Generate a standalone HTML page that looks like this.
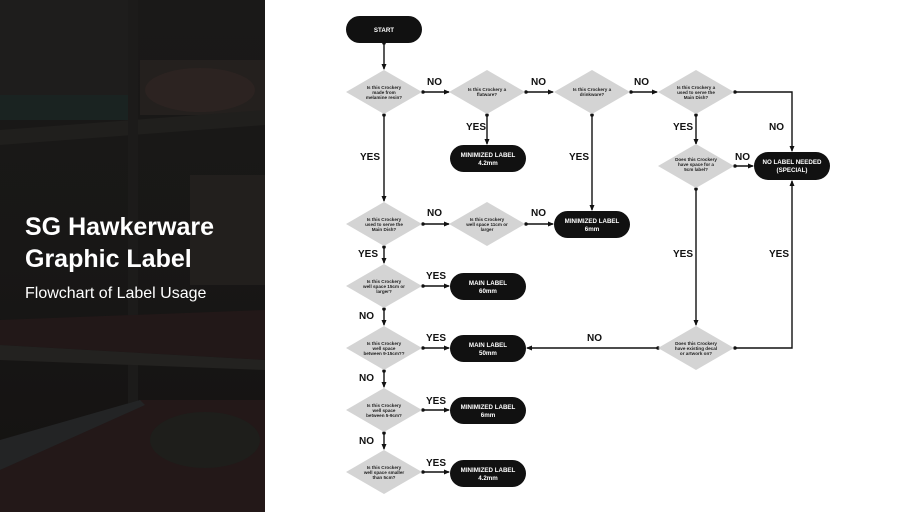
<!DOCTYPE html>
<html><head><meta charset="utf-8"><style>
html,body{margin:0;padding:0;background:#fff}
svg{display:block}
.q{font-family:"Liberation Sans",sans-serif;font-size:4.6px;fill:#222;text-anchor:middle;font-weight:bold}
.t{font-family:"Liberation Sans",sans-serif;font-size:6.2px;fill:#fff;text-anchor:middle;font-weight:bold}
.l{font-family:"Liberation Sans",sans-serif;font-size:10px;fill:#111;font-weight:bold}
.c{stroke:#111;stroke-width:1.4;fill:none}
</style></head><body>
<svg width="910" height="512" viewBox="0 0 910 512" xmlns="http://www.w3.org/2000/svg">
<defs>
<marker id="a" markerWidth="6" markerHeight="6" refX="5" refY="3" orient="auto" markerUnits="userSpaceOnUse"><path d="M0,0.5 L6,3 L0,5.5z" fill="#111"/></marker>
<marker id="d" markerWidth="4" markerHeight="4" refX="2" refY="2" markerUnits="userSpaceOnUse"><circle cx="2" cy="2" r="1.8" fill="#111"/></marker>
<linearGradient id="bg" x1="0" y1="0" x2="0" y2="1"><stop offset="0" stop-color="#1a1918"/><stop offset="0.5" stop-color="#181716"/><stop offset="1" stop-color="#141211"/></linearGradient>
</defs>
<rect x="0" y="0" width="265" height="512" fill="url(#bg)"/>
<rect x="0" y="0" width="128" height="110" fill="#1e1d1c"/>
<rect x="0" y="95" width="128" height="25" fill="#1a2321"/>
<rect x="140" y="60" width="125" height="55" fill="#24201e"/>
<ellipse cx="200" cy="90" rx="55" ry="22" fill="#2c2321"/>
<polygon points="0,130 265,110 265,125 0,145" fill="#201f1d"/>
<rect x="128" y="0" width="10" height="512" fill="#1c1b1a"/>
<rect x="190" y="175" width="75" height="110" fill="#221f1d"/>
<polygon points="0,320 265,310 265,360 0,345" fill="#221818"/>
<polygon points="0,345 265,360 265,370 0,360" fill="#232220"/>
<polygon points="0,470 140,400 265,400 265,512 0,512" fill="#231818"/>
<polygon points="0,440 140,400 145,405 0,470" fill="#232425"/>
<ellipse cx="205" cy="440" rx="55" ry="28" fill="#1e1e1b"/>
<text x="25" y="235" font-family="Liberation Sans,sans-serif" font-size="25" font-weight="bold" fill="#fff">SG Hawkerware</text>
<text x="25" y="267" font-family="Liberation Sans,sans-serif" font-size="25" font-weight="bold" fill="#fff">Graphic Label</text>
<text x="25" y="298" font-family="Liberation Sans,sans-serif" font-size="16" fill="#fff">Flowchart of Label Usage</text>

<g class="c" marker-end="url(#a)" marker-start="url(#d)">
<path d="M384,43 V69"/>
<path d="M423,92 H449"/>
<path d="M526,92 H553"/>
<path d="M631,92 H657"/>
<path d="M735,92 H792 V151"/>
<path d="M696,115 V144"/>
<path d="M735,166 H753"/>
<path d="M487,115 V144"/>
<path d="M592,115 V210"/>
<path d="M384,115 V201"/>
<path d="M423,224 H449"/>
<path d="M526,224 H553"/>
<path d="M384,247 V263"/>
<path d="M423,286 H449"/>
<path d="M384,309 V325"/>
<path d="M423,348 H449"/>
<path d="M384,371 V387"/>
<path d="M423,410 H449"/>
<path d="M384,433 V449"/>
<path d="M423,472 H449"/>
<path d="M696,189 V325"/>
<path d="M658,348 H527"/>
<path d="M735,348 H792 V181"/>
</g>

<g fill="#d4d4d4">
<polygon points="384,70 422,92 384,114 346,92"/>
<polygon points="487,70 525,92 487,114 449,92"/>
<polygon points="592,70 630,92 592,114 554,92"/>
<polygon points="696,70 734,92 696,114 658,92"/>
<polygon points="696,144 734,166 696,188 658,166"/>
<polygon points="384,202 422,224 384,246 346,224"/>
<polygon points="487,202 525,224 487,246 449,224"/>
<polygon points="384,264 422,286 384,308 346,286"/>
<polygon points="384,326 422,348 384,370 346,348"/>
<polygon points="384,388 422,410 384,432 346,410"/>
<polygon points="384,450 422,472 384,494 346,472"/>
<polygon points="696,326 734,348 696,370 658,348"/>
</g>
<text class="q" x="384" y="89">Is this Crockery</text><text class="q" x="384" y="94">made from</text><text class="q" x="384" y="99">melamine resin?</text>
<text class="q" x="487" y="91">Is this Crockery a</text><text class="q" x="487" y="96">flatware?</text>
<text class="q" x="592" y="91">Is this Crockery a</text><text class="q" x="592" y="96">drinkware?</text>
<text class="q" x="696" y="89">Is this Crockery a</text><text class="q" x="696" y="94">used to serve the</text><text class="q" x="696" y="99">Main Dish?</text>
<text class="q" x="696" y="161">Does this Crockery</text><text class="q" x="696" y="166">have space for a</text><text class="q" x="696" y="171">5cm label?</text>
<text class="q" x="384" y="221">Is this Crockery</text><text class="q" x="384" y="226">used to serve the</text><text class="q" x="384" y="231">Main Dish?</text>
<text class="q" x="487" y="221">Is this Crockery</text><text class="q" x="487" y="226">well space 11cm or</text><text class="q" x="487" y="231">larger</text>
<text class="q" x="384" y="283">Is this Crockery</text><text class="q" x="384" y="288">well space 15cm or</text><text class="q" x="384" y="293">larger?</text>
<text class="q" x="384" y="345">Is this Crockery</text><text class="q" x="384" y="350">well space</text><text class="q" x="384" y="355">between 9-15cm??</text>
<text class="q" x="384" y="407">Is this Crockery</text><text class="q" x="384" y="412">well space</text><text class="q" x="384" y="417">between 5-9cm?</text>
<text class="q" x="384" y="469">Is this Crockery</text><text class="q" x="384" y="474">well space smaller</text><text class="q" x="384" y="479">than 5cm?</text>
<text class="q" x="696" y="345">Does this Crockery</text><text class="q" x="696" y="350">have existing decal</text><text class="q" x="696" y="355">or artwork on?</text>

<g fill="#111">
<rect x="346" y="16" width="76" height="27" rx="13.5"/>
<rect x="450" y="145" width="76" height="27" rx="13.5"/>
<rect x="554" y="211" width="76" height="27" rx="13.5"/>
<rect x="754" y="152" width="76" height="28" rx="14"/>
<rect x="450" y="273" width="76" height="27" rx="13.5"/>
<rect x="450" y="335" width="76" height="27" rx="13.5"/>
<rect x="450" y="397" width="76" height="27" rx="13.5"/>
<rect x="450" y="460" width="76" height="27" rx="13.5"/>
</g>
<text class="t" x="384" y="32">START</text>
<text class="t" x="488" y="157">MINIMIZED LABEL</text><text class="t" x="488" y="165">4.2mm</text>
<text class="t" x="592" y="223">MINIMIZED LABEL</text><text class="t" x="592" y="231">6mm</text>
<text class="t" x="792" y="164">NO LABEL NEEDED</text><text class="t" x="792" y="172">(SPECIAL)</text>
<text class="t" x="488" y="285">MAIN LABEL</text><text class="t" x="488" y="293">60mm</text>
<text class="t" x="488" y="347">MAIN LABEL</text><text class="t" x="488" y="355">50mm</text>
<text class="t" x="488" y="409">MINIMIZED LABEL</text><text class="t" x="488" y="417">6mm</text>
<text class="t" x="488" y="472">MINIMIZED LABEL</text><text class="t" x="488" y="480">4.2mm</text>

<text class="l" x="427" y="85">NO</text>
<text class="l" x="531" y="85">NO</text>
<text class="l" x="634" y="85">NO</text>
<text class="l" x="769" y="130">NO</text>
<text class="l" x="673" y="130">YES</text>
<text class="l" x="735" y="160">NO</text>
<text class="l" x="466" y="130">YES</text>
<text class="l" x="569" y="160">YES</text>
<text class="l" x="360" y="160">YES</text>
<text class="l" x="427" y="216">NO</text>
<text class="l" x="531" y="216">NO</text>
<text class="l" x="358" y="257">YES</text>
<text class="l" x="426" y="279">YES</text>
<text class="l" x="359" y="319">NO</text>
<text class="l" x="426" y="341">YES</text>
<text class="l" x="359" y="381">NO</text>
<text class="l" x="426" y="404">YES</text>
<text class="l" x="359" y="444">NO</text>
<text class="l" x="426" y="466">YES</text>
<text class="l" x="673" y="257">YES</text>
<text class="l" x="769" y="257">YES</text>
<text class="l" x="587" y="341">NO</text>
</svg>
</body></html>
